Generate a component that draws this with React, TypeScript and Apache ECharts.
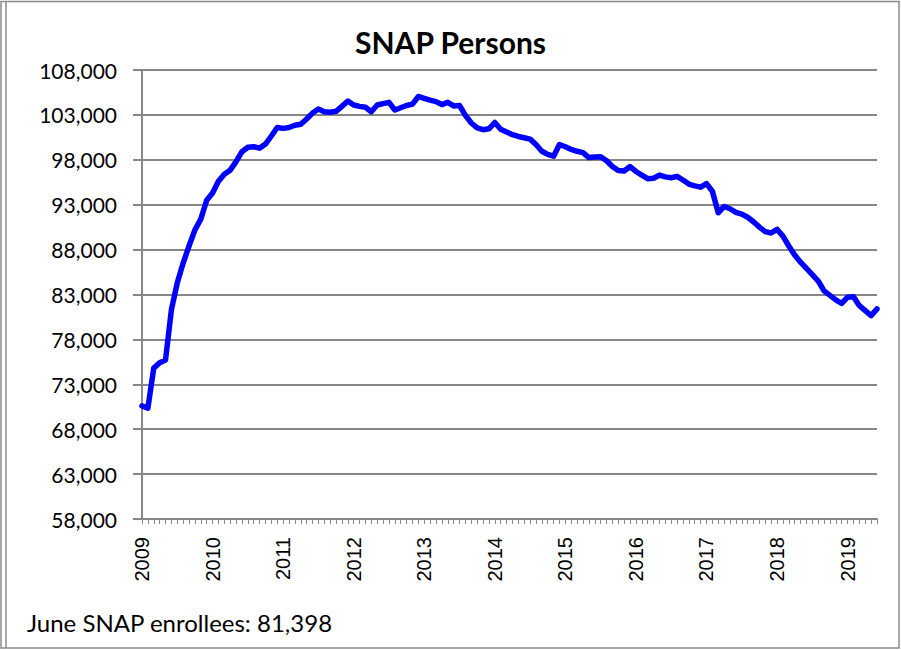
import React, { useEffect, useRef } from "react";
import * as echarts from "echarts";

const startYear = 2009;
const monthCount = 126; // Jan 2009 .. Jun 2019
const months: string[] = [];
for (let i = 0; i < monthCount; i++) {
  const y = startYear + Math.floor(i / 12);
  const m = (i % 12) + 1;
  months.push(`${y}-${m < 10 ? "0" + m : m}`);
}

const snapPersons: number[] = [
  70600, 70350, 74800, 75400, 75700, 81300, 84300, 86500, 88400, 90200, 91400, 93500,
  94300, 95600, 96400, 96850, 97800, 98900, 99400, 99450, 99300, 99750, 100650, 101600,
  101500, 101600, 101850, 101950, 102550, 103200, 103650, 103350, 103300, 103400, 103950, 104550,
  104100, 103950, 103850, 103350, 104100, 104250, 104400, 103550, 103800, 104050, 104200, 105050,
  104850, 104650, 104480, 104150, 104400, 104000, 104050, 102950, 102100, 101550, 101350, 101450,
  102150, 101400, 101100, 100800, 100600, 100450, 100300, 99700, 98950, 98600, 98400, 99700,
  99450, 99150, 98950, 98800, 98250, 98300, 98350, 97900, 97250, 96800, 96750, 97250,
  96700, 96300, 95900, 95950, 96300, 96100, 96000, 96150, 95750, 95300, 95100, 94950,
  95350, 94500, 92100, 92800, 92550, 92150, 91950, 91600, 91100, 90500, 90000, 89850,
  90250, 89500, 88400, 87400, 86600, 85900, 85200, 84500, 83400, 82900, 82400, 82000,
  82700, 82750, 81750, 81200, 80650, 81398,
];

const yMin = 58000;
const yMax = 108000;
const yStep = 5000;
const titleText = "SNAP Persons";
const footnote = "June SNAP enrollees: 81,398";

export default function App() {
  const ref = useRef<HTMLDivElement>(null);
  useEffect(() => {
    if (!ref.current) return;
    const chart = echarts.init(ref.current, undefined, { renderer: "svg" });
    const gray = "#878787";
    chart.setOption({
      animation: false,
      backgroundColor: "#ffffff",
      title: {
        text: titleText,
        left: "center",
        top: 27,
        itemGap: 0,
        padding: 0,
        textStyle: { fontFamily: "Lato", fontWeight: "bold", fontSize: 30, color: "#000" },
      },
      grid: { left: 142, right: 24, top: 70, bottom: 131, containLabel: false },
      xAxis: {
        type: "category",
        data: months,
        boundaryGap: false,
        axisLine: { show: true, lineStyle: { color: gray, width: 2 } },
        axisTick: { show: true, interval: 0, length: 5, inside: false, lineStyle: { color: gray, width: 1 } },
        axisLabel: {
          interval: (idx: number) => idx % 12 === 0,
          rotate: 90,
          margin: 18,
          fontFamily: "Liberation Sans",
          fontSize: 20,
          color: "#000",
          formatter: (v: string) => v.slice(0, 4),
        },
        splitLine: { show: false },
      },
      yAxis: {
        type: "value",
        min: yMin,
        max: yMax,
        interval: yStep,
        axisLine: { show: true, lineStyle: { color: gray, width: 2 } },
        axisTick: { show: true, length: 9, lineStyle: { color: gray, width: 2 } },
        axisLabel: {
          margin: 25,
          fontFamily: "Lato",
          fontSize: 21,
          color: "#000",
          formatter: (v: number) => v.toLocaleString("en-US"),
        },
        splitLine: { show: true, lineStyle: { color: gray, width: 2 } },
      },
      series: [
        {
          type: "line",
          data: snapPersons,
          symbol: "none",
          smooth: false,
          lineStyle: { color: "#0000ff", width: 5.5, join: "round", cap: "round" },
        },
      ],
      graphic: [
        {
          type: "rect",
          shape: { x: 1, y: 1.5, width: 898, height: 646.5 },
          style: { fill: "none", stroke: "#8a8a8a", lineWidth: 1.5 },
          silent: true,
        },
        {
          type: "line",
          shape: { x1: 6, y1: 1.5, x2: 6, y2: 648 },
          style: { stroke: "#8a8a8a", lineWidth: 1.5 },
          silent: true,
        },
        {
          type: "text",
          left: 27,
          top: 610,
          style: { text: footnote, fontFamily: "Lato", fontSize: 24, fill: "#000" },
        },
      ],
    });
    return () => chart.dispose();
  }, []);
  return (
    <div
      ref={ref}
      style={{ position: "fixed", left: 0, top: 0, width: 901, height: 650 }}
    />
  );
}
